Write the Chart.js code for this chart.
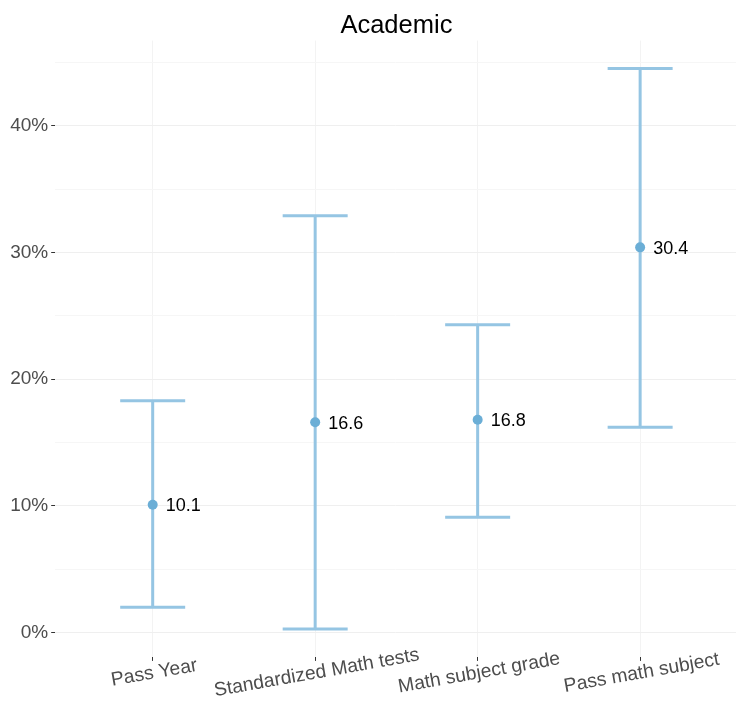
<!DOCTYPE html>
<html>
<head>
<meta charset="utf-8">
<script src="https://cdn.jsdelivr.net/npm/chart.js@4.4.1/dist/chart.umd.min.js"></script>
<style>
  html, body { margin: 0; padding: 0; background: #ffffff; }
  #wrap { width: 736px; height: 707px; position: relative; }
</style>
</head>
<body>
<div id="wrap"><canvas id="chart" width="736" height="707"></canvas></div>
<script>
// Estimates (%) with their lower / upper interval bounds, one per category
const categories = ['Pass Year', 'Standardized Math tests', 'Math subject grade', 'Pass math subject'];
const estimates = [10.1, 16.6, 16.8, 30.4];
const lowerBounds = [2.0, 0.3, 9.1, 16.2];
const upperBounds = [18.3, 32.9, 24.3, 44.5];
const yTickValues = [0, 5, 10, 15, 20, 25, 30, 35, 40, 45];
const yLabelStep = 10;
const chartTitle = 'Academic';

const FONT = '"Liberation Sans", Arial, Helvetica, sans-serif';
Chart.defaults.font.family = FONT;

const POINT_COLOR = '#6baed6';
const BAR_COLOR = '#95c5e3';
const CAP_HALF = 0.2;

// Interval whiskers with caps, drawn beneath the points
const errorBars = {
  id: 'errorBars',
  beforeDatasetsDraw(chart) {
    const { ctx, scales: { x, y } } = chart;
    ctx.save();
    ctx.strokeStyle = BAR_COLOR;
    ctx.lineWidth = 3;
    ctx.lineCap = 'butt';
    categories.forEach((c, i) => {
      const cx = x.getPixelForValue(i);
      const yl = y.getPixelForValue(lowerBounds[i]);
      const yu = y.getPixelForValue(upperBounds[i]);
      const xl = x.getPixelForValue(i - CAP_HALF);
      const xr = x.getPixelForValue(i + CAP_HALF);
      ctx.beginPath();
      ctx.moveTo(cx, yl); ctx.lineTo(cx, yu);
      ctx.moveTo(xl, yu); ctx.lineTo(xr, yu);
      ctx.moveTo(xl, yl); ctx.lineTo(xr, yl);
      ctx.stroke();
    });
    ctx.restore();
  }
};

// Value labels beside each point, category labels and the title
const annotations = {
  id: 'annotations',
  afterDatasetsDraw(chart) {
    const { ctx, scales: { x, y } } = chart;
    ctx.save();
    ctx.fillStyle = '#000000';
    ctx.font = '18px ' + FONT;
    ctx.textAlign = 'left';
    ctx.textBaseline = 'alphabetic';
    estimates.forEach((v, i) => {
      ctx.fillText(v.toFixed(1), x.getPixelForValue(i) + 13, y.getPixelForValue(v) + 6.5);
    });
    ctx.restore();
  },
  afterDraw(chart) {
    const { ctx, scales: { x } } = chart;
    ctx.save();
    ctx.fillStyle = '#4d4d4d';
    ctx.font = '19.3px ' + FONT;
    ctx.textAlign = 'center';
    ctx.textBaseline = 'middle';
    categories.forEach((c, i) => {
      ctx.save();
      ctx.translate(x.getPixelForValue(i) + 1.5, 673);
      ctx.rotate(-10 * Math.PI / 180);
      ctx.fillText(c, 0, 0);
      ctx.restore();
    });
    ctx.fillStyle = '#000000';
    ctx.font = '25.5px ' + FONT;
    ctx.textBaseline = 'alphabetic';
    ctx.fillText(chartTitle, x.getPixelForValue((categories.length - 1) / 2), 32.5);
    ctx.restore();
  }
};

new Chart(document.getElementById('chart'), {
  type: 'scatter',
  data: {
    datasets: [{
      data: categories.map((c, i) => ({ x: i, y: estimates[i] })),
      pointRadius: 5,
      pointHoverRadius: 5,
      pointBackgroundColor: POINT_COLOR,
      pointBorderColor: POINT_COLOR,
      pointBorderWidth: 0,
      showLine: false
    }]
  },
  options: {
    responsive: false,
    animation: false,
    devicePixelRatio: 1,
    layout: { autoPadding: false, padding: { top: 40.6, left: 0, right: 0, bottom: 0 } },
    plugins: {
      legend: { display: false },
      title: { display: false },
      tooltip: { enabled: false }
    },
    scales: {
      x: {
        type: 'linear',
        min: -0.6,
        max: 3.59,
        afterBuildTicks: (axis) => { axis.ticks = categories.map((c, i) => ({ value: i })); },
        afterFit: (axis) => { axis.height = 50.1; },
        ticks: { display: false },
        grid: { color: '#f3f3f3', lineWidth: 1, tickColor: '#333333', tickLength: 4, drawTicks: true },
        border: { display: false }
      },
      y: {
        type: 'linear',
        min: -1.91,
        max: 46.71,
        afterBuildTicks: (axis) => { axis.ticks = yTickValues.map(v => ({ value: v })); },
        afterFit: (axis) => { axis.width = 55.2; },
        ticks: {
          callback: (v) => (v % yLabelStep === 0 ? v + '%' : ''),
          color: '#4d4d4d',
          font: { size: 19 },
          padding: 3,
          autoSkip: false
        },
        grid: {
          color: (ctx) => (ctx.tick && ctx.tick.value % yLabelStep === 0 ? '#efefef' : '#f6f6f6'),
          tickColor: (ctx) => (ctx.tick && ctx.tick.value % yLabelStep === 0 ? '#333333' : 'rgba(0,0,0,0)'),
          tickLength: 4,
          lineWidth: 1
        },
        border: { display: false }
      }
    }
  },
  plugins: [errorBars, annotations]
});
</script>
</body>
</html>
